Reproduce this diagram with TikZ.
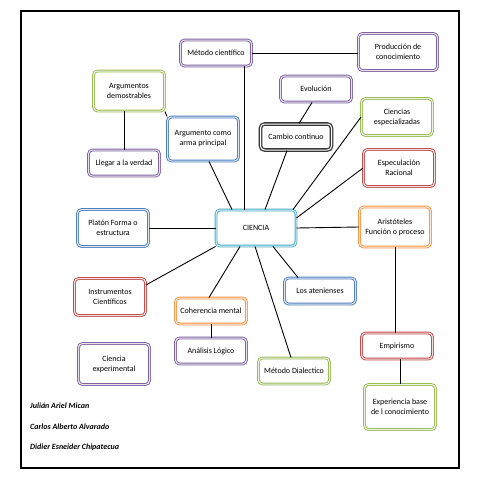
\documentclass[tikz,border=0pt]{standalone}
\usepackage{fontspec}
\setmainfont{Carlito}
\usetikzlibrary{positioning,calc}
\definecolor{mapblue}{RGB}{79,129,189}
\definecolor{mappurple}{RGB}{128,100,162}
\definecolor{mapgreen}{RGB}{155,187,89}
\definecolor{mapred}{RGB}{192,80,77}
\definecolor{maporange}{RGB}{247,150,70}
\definecolor{mapaqua}{RGB}{75,172,198}
\definecolor{mapdark}{RGB}{55,55,55}
\tikzset{
  concept/.style={draw=#1, double=#1!18, double distance=1pt, line width=0.9pt,
    rounded corners=4pt, fill=white, align=center, font=\fontsize{8}{10}\selectfont,
    minimum width=71pt, minimum height=26pt, inner sep=2pt},
  tall/.style={minimum height=37pt},
  link/.style={line width=0.9pt, draw=black},
  author/.style={font=\fontsize{8}{9}\selectfont\bfseries\itshape, anchor=west, inner sep=0pt}
}

\begin{document}
\begin{tikzpicture}[x=1pt, y=-1pt]
  \useasboundingbox (0,0) rectangle (480,480);
  \fill[white] (0,0) rectangle (480,480);
  \draw[line width=2.2pt] (21,11) rectangle (459,468);

  % top row
  \node[concept=mappurple] (metodo) at (216,53) {Método científico};
  \node[concept=mappurple, tall, minimum width=79pt] (prod) at (398,52) {Producción de\\conocimiento};
  \node[concept=mappurple] (evol) at (316,89) {Evolución};
  \node[concept=mapgreen, minimum height=40pt] (argd) at (129,91) {Argumentos\\demostrables};
  \node[concept=mapgreen, tall] (cienc) at (397,117) {Ciencias\\especializadas};
  \node[concept=mapblue, minimum height=44pt] (arma) at (203,139) {Argumento como\\arma principal};
  \node[concept=mapdark, double=white, line width=1.3pt] (cambio) at (296,137) {Cambio continuo};
  \node[concept=mappurple] (llegar) at (124,163) {Llegar a la verdad};
  \node[concept=mapred, tall] (espec) at (399,168) {Especulación\\Racional};

  % centre
  \node[concept=mapaqua, minimum width=80pt, minimum height=36pt] (cie) at (256,228) {CIENCIA};
  \node[concept=mapblue, tall] (platon) at (113,228) {Platón Forma o\\estructura};
  \node[concept=maporange, minimum height=40pt] (arist) at (395,227) {Aristóteles\\Función o proceso};

  % lower part
  \node[concept=mapred, tall] (instr) at (110,297) {Instrumentos\\Científicos};
  \node[concept=mapblue] (aten) at (320,291) {Los atenienses};
  \node[concept=maporange] (coh) at (211,311) {Coherencia mental};
  \node[concept=mapred] (empir) at (397,346) {Empirismo};
  \node[concept=mappurple] (anal) at (211,351) {Análisis Lógico};
  \node[concept=mappurple, minimum height=41pt] (cexp) at (114,364) {Ciencia\\experimental};
  \node[concept=mapgreen] (dial) at (294,371) {Método Dialectico};
  \node[concept=mapgreen, minimum height=45pt] (exper) at (400,407) {Experiencia base\\de l conocimiento};

  \node[author] (julian) at (30,406) {Julián Ariel Mican};
  \node[author] (carlos) at (30,427) {Carlos Alberto Alvarado};
  \node[author] (didier) at (30,447) {Didier Esneider Chipatecua};

  % connectors
  \draw[link] (metodo.east) -- (metodo.east -| prod.west);
  \draw[link] ([xshift=28pt]metodo.south) -- ([xshift=28pt]metodo.south |- cie.north);
  \draw[link] (argd.south -| llegar.north) -- (llegar.north);
  \draw[link] (argd.south east) -- (arma.north west);
  \draw[link] ([xshift=6pt]arma.south) -- ([xshift=-24pt]cie.north);
  \draw[link] ([xshift=-4pt]evol.south) -- ([xshift=3pt]cambio.north);
  \draw[link] ([xshift=-9pt]cambio.south) -- ([xshift=9pt]cie.north);
  \draw[link] (cienc.west) -- ([xshift=37pt]cie.north);
  \draw[link] (espec.west) -- ([yshift=10pt]cie.east);
  \draw[link] (cie.east) -- (arist.west);
  \draw[link] (platon.east) -- (cie.west);
  \draw[link] (arist.south) -- (arist.south |- empir.north);
  \draw[link] (exper.north |- empir.south) -- (exper.north);
  \draw[link] (cie.south west) -- ([yshift=12pt]instr.east);
  \draw[link] ([xshift=-16pt]cie.south) -- ([xshift=-2pt]coh.north);
  \draw[link] (coh.south) -- (anal.north);
  \draw[link] ([xshift=17pt]cie.south) -- ([xshift=-22pt]aten.north);
  \draw[link] ([xshift=-1pt]cie.south) -- ([xshift=-3pt]dial.north);
\end{tikzpicture}
\end{document}
